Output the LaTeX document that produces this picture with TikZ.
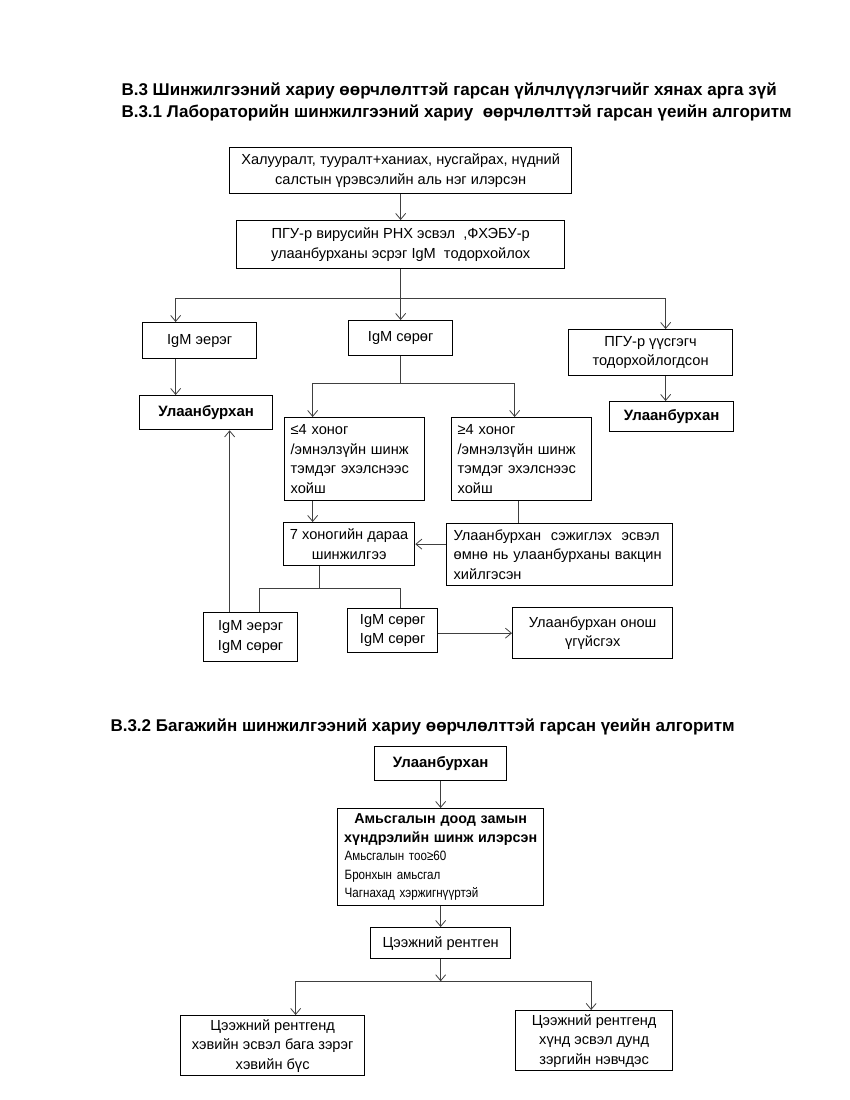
\documentclass[tikz,border=0pt]{standalone}
\usepackage{fontspec}
\setmainfont{Liberation Sans}
\newfontfamily\narrowfont{Liberation Sans}[FakeStretch=0.86]
\usetikzlibrary{arrows.meta}
\tikzset{
  box/.style n args={2}{draw=black, line width=1.3pt, anchor=north west,
    minimum width=#1pt, minimum height=#2pt, inner sep=0pt, align=center,
    font=\fontsize{14.6}{19.5}\selectfont},
  lbox/.style n args={3}{box={#1}{#2}, text width=#3pt, align=left},
  bbox/.style n args={2}{box={#1}{#2}, font=\bfseries\fontsize{15}{18}\selectfont},
  ln/.style={draw=black!75, line width=0.9pt},
  tip/.style={-{Straight Barb[length=6pt,width=10pt,line width=0.8pt]}},
  ttl/.style={anchor=base west, font=\bfseries\fontsize{17}{20}\selectfont}
}
\begin{document}
\begin{tikzpicture}[x=1pt,y=-1pt]
\useasboundingbox[fill=white] (0,0) rectangle (850,1100);

% titles
\node[ttl] (t1) at (118,95) {В.3 Шинжилгээний хариу өөрчлөлттэй гарсан үйлчлүүлэгчийг хянах арга зүй};
\node[ttl] (t2) at (118,117) {В.3.1 Лабораторийн шинжилгээний хариу\ \ өөрчлөлттэй гарсан үеийн алгоритм};
\node[ttl] (t3) at (107,731) {В.3.2 Багажийн шинжилгээний хариу өөрчлөлттэй гарсан үеийн алгоритм};

% section 1 boxes
\node[box={342}{46}] (b1) at (229,147) {Халууралт, тууралт+ханиах, нусгайрах, нүдний\\салстын үрэвсэлийн аль нэг илэрсэн};
\node[box={328}{48}] (b2) at (236,220) {ПГУ-р вирусийн РНХ эсвэл\ \ ,ФХЭБУ-р\\улаанбурханы эсрэг IgM\ \ тодорхойлох};
\node[box={114}{36}] (igmp) at (142,322) {IgM эерэг};
\node[box={104}{35}] (igmn) at (348,320) {IgM сөрөг};
\node[box={164}{46}] (pgu) at (568,329) {ПГУ-р үүсгэгч\\тодорхойлогдсон};
\node[bbox={133}{34}] (ul1) at (139,395) {Улаанбурхан};
\node[bbox={124}{30}] (ul2) at (609,401) {Улаанбурхан};
\node[lbox={140}{83}{128}] (le4) at (284,417) {≤4 хоног\\/эмнэлзүйн шинж\\тэмдэг эхэлснээс\\хойш};
\node[lbox={140}{83}{128}] (ge4) at (451,417) {≥4 хоног\\/эмнэлзүйн шинж\\тэмдэг эхэлснээс\\хойш};
\node[box={131}{43}] (d7) at (283,522) {7 хоногийн дараа\\шинжилгээ};
\node[lbox={226}{62}{212}] (sus) at (446,523) {\makebox[212pt][s]{Улаанбурхан\ \ сэжиглэх\ \ эсвэл}\\\makebox[212pt][s]{өмнө нь улаанбурханы вакцин}\\хийлгэсэн};
\node[box={94}{49}] (pr1) at (203,612) {IgM эерэг\\IgM сөрөг};
\node[box={90}{44}] (pr2) at (347,608) {IgM сөрөг\\IgM сөрөг};
\node[box={160}{51}] (rule) at (512,607) {Улаанбурхан онош\\үгүйсгэх};

% section 2 boxes
\node[bbox={132}{34}] (ulB) at (374,746) {Улаанбурхан};
\node[lbox={206}{97}{192}, font=\fontsize{14.3}{18.5}\selectfont] (amB) at (337,808)
  {{\bfseries\makebox[192pt][c]{Амьсгалын доод замын}}\\{\bfseries\makebox[192pt][c]{хүндрэлийн шинж илэрсэн}}\\{\narrowfont\fontsize{13.5}{18.5}\selectfont Амьсгалын тоо≥60}\\{\narrowfont\fontsize{13.5}{18.5}\selectfont Бронхын амьсгал}\\{\narrowfont\fontsize{13.5}{18.5}\selectfont Чагнахад хэржигнүүртэй}};
\node[box={140}{31}] (czB) at (370,927) {Цээжний рентген};
\node[box={184}{60}] (lb) at (180,1015) {Цээжний рентгенд\\хэвийн эсвэл бага зэрэг\\хэвийн бүс};
\node[box={157}{60}] (rb) at (515,1010) {Цээжний рентгенд\\хүнд эсвэл дунд\\зэргийн нэвчдэс};

% section 1 connectors
\draw[ln,tip] (b1.south) -- (b1.south |- b2.north);
\draw[ln] (b2.south) -- ++(0,29) coordinate (j1);
\draw[ln,tip] (j1) -| ([xshift=-24pt]igmp.north);
\draw[ln,tip] (j1) -- (j1 |- igmn.north);
\draw[ln,tip] (j1) -| ([xshift=15pt]pgu.north);
\coordinate (c1) at ([xshift=-24pt]igmp.south);
\draw[ln,tip] (c1) -- (c1 |- ul1.north);
\coordinate (c2) at ([xshift=15pt]pgu.south);
\draw[ln,tip] (c2) -- (c2 |- ul2.north);
\draw[ln] (igmn.south) -- ++(0,27) coordinate (j2);
\draw[ln,tip] (j2) -| ([xshift=-42pt]le4.north);
\draw[ln,tip] (j2) -| ([xshift=-7pt]ge4.north);
\coordinate (c3) at ([xshift=-42pt]le4.south);
\draw[ln,tip] (c3) -- (c3 |- d7.north);
\coordinate (c4) at ([xshift=-3pt]ge4.south);
\draw[ln] (c4) -- (c4 |- sus.north);
\draw[ln,tip] (sus.west |- d7.east) -- (d7.east);
\draw[ln] ([xshift=-30pt]d7.south) -- ++(0,22) coordinate (j3);
\draw[ln] (j3) -| ([xshift=9pt]pr1.north);
\draw[ln] (j3) -| ([xshift=8pt]pr2.north);
\coordinate (c5) at ([xshift=-21pt]pr1.north);
\draw[ln,tip] (c5) -- (c5 |- ul1.south);
\draw[ln,tip] (pr2.east |- rule.west) -- (rule.west);

% section 2 connectors
\draw[ln,tip] (ulB.south) -- (ulB.south |- amB.north);
\draw[ln,tip] (amB.south) -- (amB.south |- czB.north);
\draw[ln,tip] (czB.south) -- ++(0,22) coordinate (j4);
\draw[ln,tip] (j4) -| ([xshift=23pt]lb.north);
\draw[ln,tip] (j4) -| ([xshift=-3pt]rb.north);
\end{tikzpicture}
\end{document}
